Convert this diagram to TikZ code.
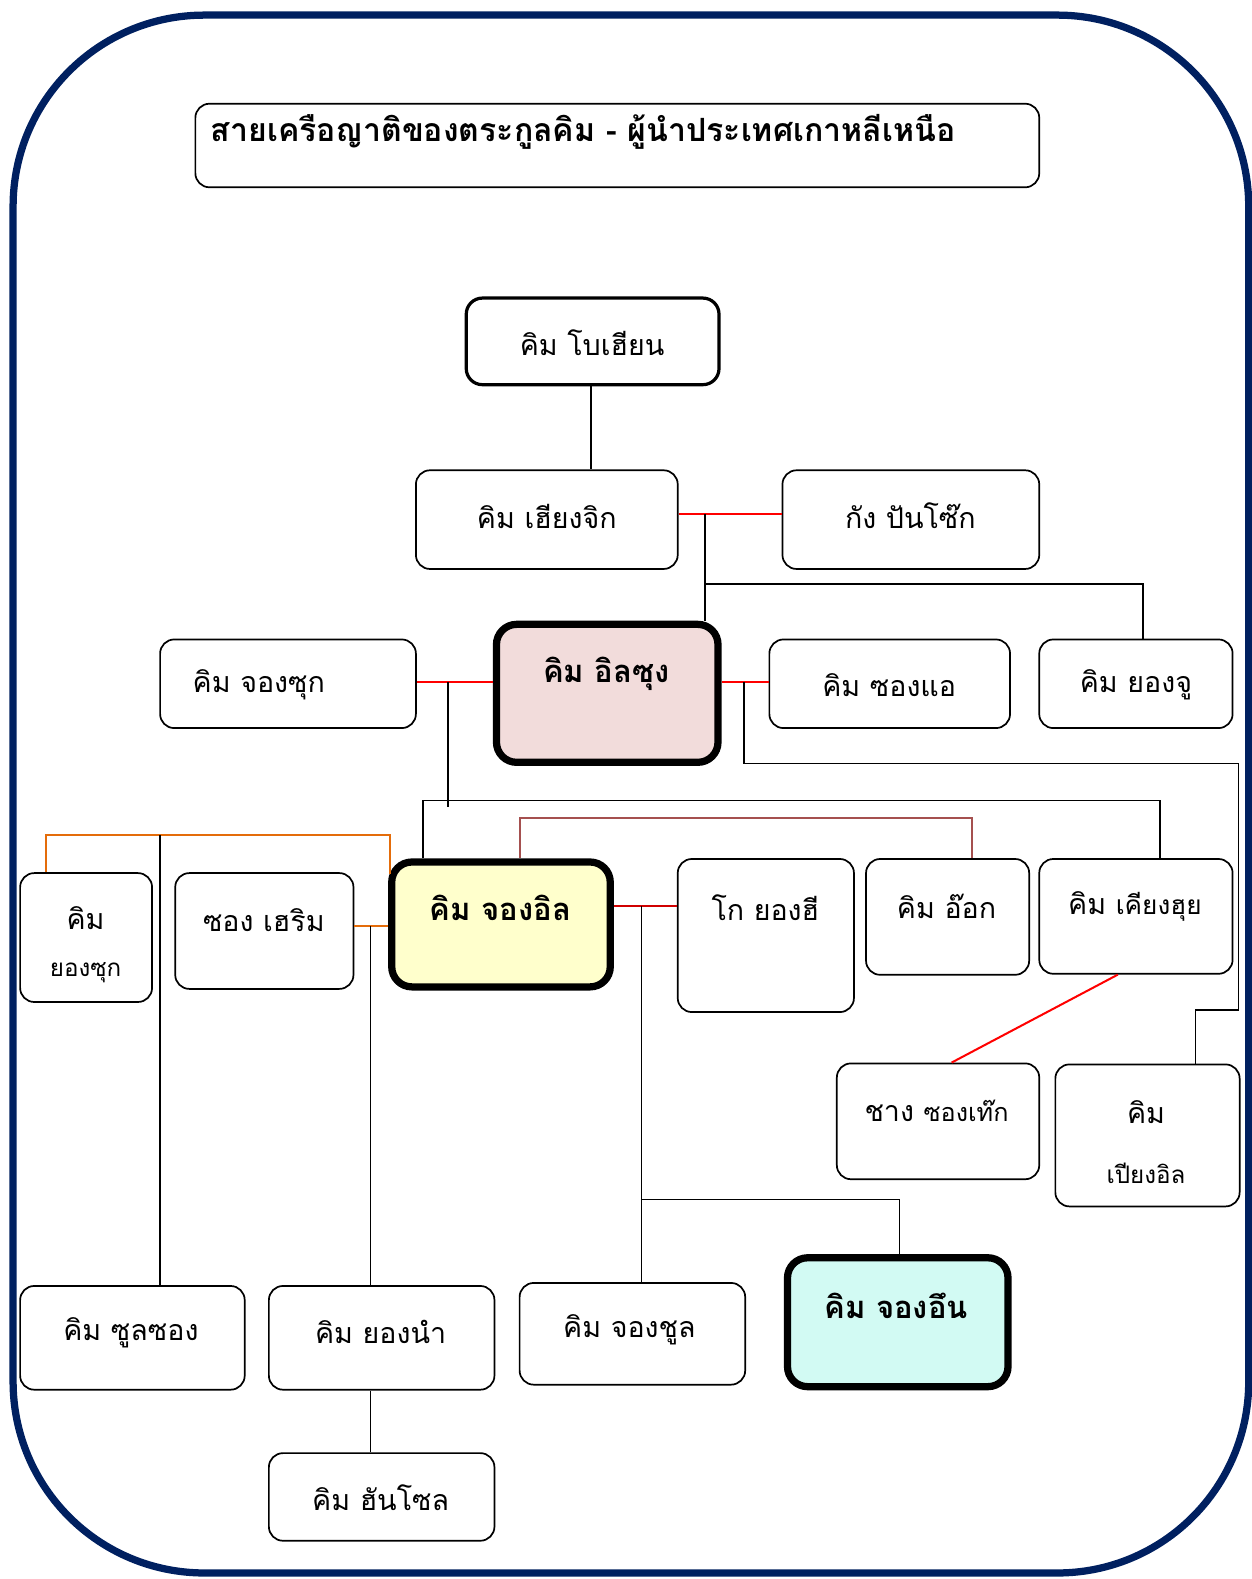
\documentclass[tikz,border=0pt]{standalone}
\usepackage{fontspec}
\newfontfamily\thai[Script=Thai]{Loma}
\usetikzlibrary{fit,calc}
\definecolor{navy}{HTML}{002060}
\definecolor{pinkf}{HTML}{F2DCDB}
\definecolor{yelf}{HTML}{FFFFCC}
\definecolor{cyanf}{HTML}{D2FAF3}
\definecolor{orl}{HTML}{E46C0A}
\definecolor{brl}{HTML}{A5504F}
\definecolor{drl}{HTML}{D00000}
\begin{document}
\begin{tikzpicture}[x=0.5pt,y=-0.5pt,
  box/.style={draw, line width=0.85pt, rounded corners=7pt, inner sep=0pt},
  boxm/.style={draw, line width=1.6pt, rounded corners=8pt, inner sep=0pt},
  boxk/.style={draw, line width=3.6pt, rounded corners=10pt, inner sep=0pt},
  txt/.style={font=\thai\fontsize{14.2}{16}\selectfont, inner sep=0pt},
  txts/.style={font=\thai\fontsize{12}{14}\selectfont, inner sep=0pt},
  txtb/.style={font=\thai\bfseries\fontsize{15.4}{17}\selectfont, inner sep=0pt},
  blk/.style={draw=black, line width=0.75pt},
  redl/.style={draw=red, line width=1pt},
  orgl/.style={draw=orl, line width=1pt},
  brnl/.style={draw=brl, line width=0.9pt},
  dkrl/.style={draw=drl, line width=1pt}]
\useasboundingbox (0,0) rectangle (1243,1568);
% frame
\draw[navy, line width=3.6pt, rounded corners=95pt] (13,15) rectangle (1240,1562);

% boxes
\node[box, fit={(194,103) (1032,186)}] (title) {};
\node[txtb, font=\thai\bfseries\fontsize{15.9}{18}\selectfont, anchor=west] (titlet) at (209,131) {สายเครือญาติของตระกูลคิม - ผู้นำประเทศเกาหลีเหนือ};

\node[boxm, fit={(463,296) (714,382)}] (bo) {};
\node[txt] (bot) at (588,340) {คิม โบเฮียน};

\node[box, fit={(413,467) (673,565)}] (hj) {};
\node[txt] (hjt) at (543,513) {คิม เฮียงจิก};

\node[box, fit={(777,467) (1032,565)}] (kang) {};
\node[txt] (kangt) at (904,512) {กัง ปันโซ๊ก};

\node[box, fit={(159,635) (413,723)}] (js) {};
\node[txt] (jst) at (257,680) {คิม จองซุก};

\node[boxk, fill=pinkf, fit={(493,620) (713,757)}] (ils) {};
\node[txtb] (ilst) at (602,669) {คิม อิลซุง};

\node[box, fit={(764,635) (1003,723)}] (sa) {};
\node[txt] (sat) at (883,680) {คิม ซองแอ};

\node[box, fit={(1032,635) (1224,723)}] (yj) {};
\node[txt] (yjt) at (1128,680) {คิม ยองจู};

\node[box, fit={(20,867) (151,995)}] (ys) {};
\node[txt] (yst1) at (85,912) {คิม};
\node[txts] (yst2) at (85,966) {ยองซุก};

\node[box, fit={(174,867) (351,982)}] (sh) {};
\node[txt] (sht) at (262,914) {ซอง เฮริม};

\node[boxk, fill=yelf, fit={(389,856) (606,980)}] (jo) {};
\node[txtb] (jot) at (497,902) {คิม จองอิล};

\node[box, fit={(673,853) (848,1005)}] (ko) {};
\node[txt] (kot) at (760,901) {โก ยองฮี};

\node[box, fit={(860,853) (1022,968)}] (ok) {};
\node[txt] (okt) at (940,900) {คิม อ๊อก};

\node[box, fit={(1032,853) (1224,967)}] (kh) {};
\node[txt] (kht) at (1127,900) {คิม {\fontsize{13}{15}\selectfont เคียงฮุย}};

\node[box, fit={(831,1056) (1032,1171)}] (st) {};
\node[txt] (stt) at (930,1103) {ชาง {\fontsize{12.5}{15}\selectfont ซองเท๊ก}};

\node[box, fit={(1048,1057) (1231,1198)}] (py) {};
\node[txt] (pyt1) at (1138,1104) {คิม};
\node[txts] (pyt2) at (1138,1165) {เปียงอิล};

\node[box, fit={(20,1277) (243,1380)}] (ss) {};
\node[txt] (sst) at (130,1323) {คิม ซูลซอง};

\node[box, fit={(267,1277) (491,1380)}] (yn) {};
\node[txt] (ynt) at (378,1323) {คิม ยองนำ};

\node[box, fit={(516,1274) (740,1375)}] (jc) {};
\node[txt] (jct) at (625,1320) {คิม จองชูล};

\node[boxk, fill=cyanf, fit={(782,1249) (1001,1377)}] (ju) {};
\node[txtb] (jut) at (890,1297) {คิม จองอึน};

\node[box, fit={(267,1443) (491,1530)}] (hs) {};
\node[txt] (hst) at (378,1487) {คิม ฮันโซล};

% connectors
\coordinate (c0) at (587,383);
\draw[blk] (c0 |- bo.south) -- (c0 |- hj.north);

\coordinate (c1) at (700,510);
\draw[redl] (c1 -| hj.east) -- (c1 -| kang.west);
\draw[blk] (c1) -- (c1 |- ils.north);
\coordinate (c2) at (700,580);
\coordinate (c2b) at (1135,580);
\draw[blk] (c2) -- (c2b) -- (c2b |- yj.north);

\coordinate (c3) at (445,677);
\draw[redl] (c3 -| js.east) -- (c3 -| ils.west);
\coordinate (c3b) at (445,801);
\draw[blk] (c3) -- (c3b);
\coordinate (c4) at (420,795);
\coordinate (c4b) at (1152,795);
\draw[blk] (c4 |- jo.north) -- (c4) -- (c4b) -- (c4b |- kh.north);

\coordinate (c5) at (739,677);
\draw[redl] (c5 -| ils.east) -- (c5 -| sa.west);
\coordinate (c5a) at (739,758);
\coordinate (c5b) at (1230,758);
\coordinate (c5c) at (1230,1003);
\coordinate (c5d) at (1187,1003);
\draw[blk] (c5) -- (c5a) -- (c5b) -- (c5c) -- (c5d) -- (c5d |- py.north);

\coordinate (c6) at (516,812);
\coordinate (c6b) at (965,812);
\draw[brnl] (c6 |- jo.north) -- (c6) -- (c6b) -- (c6b |- ok.north);

\coordinate (c7) at (46,829);
\coordinate (c7b) at (387,829);
\coordinate (c7c) at (387,868);
\draw[orgl] (c7 |- ys.north) -- (c7) -- (c7b) -- (c7c);
\coordinate (c8) at (159,829);
\draw[blk] (c8) -- (c8 |- ss.north);

\coordinate (c9) at (368,920);
\draw[orgl] (c9 -| sh.east) -- (c9 -| jo.west);
\draw[blk] (c9) -- (c9 |- yn.north);
\draw[blk] (c9 |- yn.south) -- (c9 |- hs.north);

\coordinate (c10) at (637,900);
\draw[dkrl] (c10 -| jo.east) -- (c10 -| ko.west);
\draw[blk] (c10) -- (c10 |- jc.north);
\coordinate (c11) at (637,1191);
\coordinate (c11b) at (893,1191);
\draw[blk] (c11) -- (c11b) -- (c11b |- ju.north);

\coordinate (c12) at (1110,967);
\coordinate (c12b) at (945,1057);
\draw[redl] (c12 |- kh.south) -- (c12b |- st.north);
\end{tikzpicture}
\end{document}
